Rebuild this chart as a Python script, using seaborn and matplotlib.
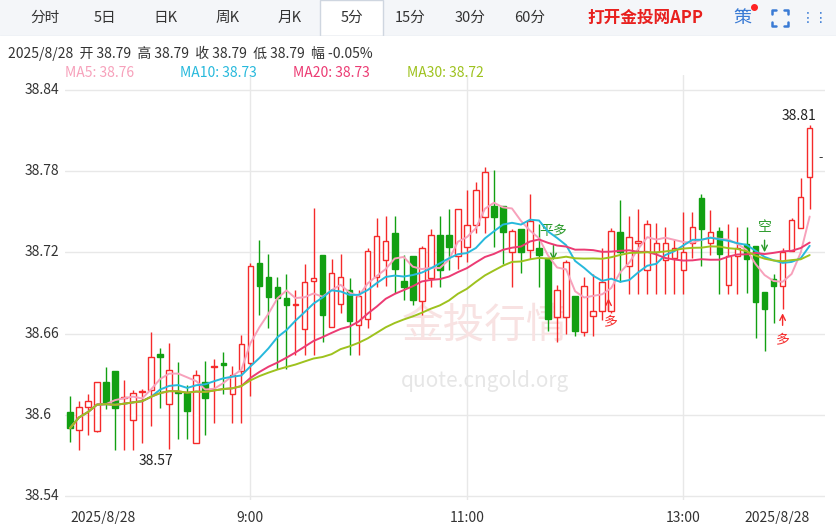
import numpy as np
import pandas as pd
import seaborn as sns
import matplotlib.pyplot as plt
from matplotlib.patches import Rectangle

# 5-minute candles, 2025/8/28
opens = [38.602, 38.589, 38.606, 38.588, 38.624, 38.632, 38.612, 38.596, 38.617, 38.618,
         38.645, 38.608, 38.617, 38.616, 38.579, 38.624, 38.635, 38.638, 38.615, 38.632,
         38.638, 38.712, 38.702, 38.694, 38.686, 38.681, 38.663, 38.699, 38.718, 38.665,
         38.682, 38.692, 38.666, 38.671, 38.702, 38.714, 38.734, 38.699, 38.717, 38.684,
         38.701, 38.733, 38.733, 38.717, 38.724, 38.740, 38.746, 38.754, 38.754, 38.720,
         38.737, 38.722, 38.723, 38.716, 38.672, 38.672, 38.688, 38.661, 38.673, 38.677,
         38.677, 38.735, 38.710, 38.727, 38.707, 38.720, 38.714, 38.716, 38.707, 38.727,
         38.760, 38.727, 38.736, 38.696, 38.717, 38.726, 38.725, 38.691, 38.700, 38.695,
         38.721, 38.738, 38.776]
closes = [38.590, 38.606, 38.610, 38.624, 38.609, 38.605, 38.613, 38.616, 38.617, 38.643,
          38.643, 38.633, 38.616, 38.603, 38.629, 38.612, 38.636, 38.637, 38.629, 38.652,
          38.710, 38.695, 38.687, 38.686, 38.681, 38.682, 38.698, 38.701, 38.674, 38.705,
          38.702, 38.669, 38.688, 38.721, 38.732, 38.728, 38.708, 38.694, 38.685, 38.723,
          38.733, 38.707, 38.724, 38.752, 38.740, 38.766, 38.779, 38.746, 38.735, 38.736,
          38.720, 38.743, 38.718, 38.671, 38.692, 38.713, 38.662, 38.695, 38.677, 38.698,
          38.736, 38.720, 38.731, 38.728, 38.741, 38.727, 38.727, 38.723, 38.720, 38.739,
          38.737, 38.735, 38.719, 38.717, 38.723, 38.715, 38.683, 38.678, 38.695, 38.720,
          38.744, 38.761, 38.812]
highs = [38.614, 38.610, 38.615, 38.624, 38.635, 38.632, 38.626, 38.618, 38.619, 38.661,
         38.649, 38.653, 38.639, 38.622, 38.633, 38.640, 38.641, 38.646, 38.636, 38.659,
         38.712, 38.729, 38.719, 38.702, 38.704, 38.692, 38.711, 38.753, 38.718, 38.715,
         38.719, 38.701, 38.692, 38.723, 38.745, 38.747, 38.747, 38.718, 38.717, 38.725,
         38.737, 38.747, 38.752, 38.752, 38.766, 38.772, 38.783, 38.781, 38.754, 38.737,
         38.737, 38.763, 38.741, 38.716, 38.696, 38.714, 38.688, 38.702, 38.704, 38.723,
         38.738, 38.759, 38.747, 38.752, 38.744, 38.742, 38.739, 38.730, 38.750, 38.750,
         38.763, 38.751, 38.739, 38.741, 38.739, 38.739, 38.725, 38.691, 38.704, 38.723,
         38.745, 38.775, 38.814]
lows = [38.580, 38.574, 38.585, 38.587, 38.604, 38.574, 38.574, 38.574, 38.579, 38.592,
        38.605, 38.575, 38.582, 38.582, 38.579, 38.585, 38.594, 38.615, 38.594, 38.594,
        38.614, 38.674, 38.664, 38.634, 38.634, 38.644, 38.644, 38.644, 38.654, 38.665,
        38.675, 38.644, 38.644, 38.664, 38.694, 38.695, 38.690, 38.685, 38.681, 38.674,
        38.694, 38.694, 38.707, 38.708, 38.713, 38.734, 38.734, 38.724, 38.711, 38.694,
        38.705, 38.715, 38.694, 38.662, 38.654, 38.660, 38.658, 38.658, 38.658, 38.670,
        38.675, 38.698, 38.689, 38.689, 38.689, 38.689, 38.689, 38.689, 38.689, 38.716,
        38.710, 38.718, 38.689, 38.689, 38.689, 38.690, 38.657, 38.647, 38.668, 38.678,
        38.721, 38.738, 38.752]
tick_pos = [0, 20, 44, 68, 82]
tick_labels = ['2025/8/28', '9:00', '11:00', '13:00', '2025/8/28']
y_ticks = [38.54, 38.6, 38.66, 38.72, 38.78, 38.84]
y_labels = ['38.54', '38.6', '38.66', '38.72', '38.78', '38.84']
tabs = ['分时', '5日', '日K', '周K', '月K', '5分', '15分', '30分', '60分']
ma_names = ['MA5', 'MA10', 'MA20', 'MA30']
ma_last = ['38.76', '38.73', '38.73', '38.72']
ma_colors = ['#f7a1bb', '#27b9dc', '#ec3b73', '#9ec21e']

RED = '#f52a2a'
GREEN = '#12a012'

df = pd.DataFrame({'open': opens, 'close': closes, 'high': highs, 'low': lows})
df['i'] = np.arange(len(df))
for n in [5, 10, 20, 30]:
    df[f'MA{n}'] = df['close'].rolling(n, min_periods=1).mean()

sns.set_style('white')
plt.rcParams['font.family'] = ['Noto Sans CJK SC', 'DejaVu Sans']

fig = plt.figure(figsize=(8.37, 5.24), dpi=100)
ax = fig.add_axes([65 / 837, 24 / 524, 760 / 837, 425 / 524])
ax.set_xlim(-0.55, 83.7)
ax.set_ylim(38.537, 38.851)
for yv in y_ticks:
    ax.axhline(yv, color='#e8e8e8', lw=1, zorder=0)
for p in tick_pos[1:4]:
    ax.axvline(p, color='#e8e8e8', lw=1, zorder=0)

# watermark
ax.text(46, 38.665, '金投行情', color='#f8e2e2', fontsize=30, ha='center', va='center', zorder=0)
ax.text(46, 38.625, 'quote.cngold.org', color='#e6e6e6', fontsize=15, ha='center', va='center', zorder=0)

w = 0.62
for _, r in df.iterrows():
    up = r['close'] >= r['open']
    c = RED if up else GREEN
    ax.vlines(r['i'], r['low'], r['high'], color=c, lw=1, zorder=2)
    lo, hi = min(r['open'], r['close']), max(r['open'], r['close'])
    ax.add_patch(Rectangle((r['i'] - w / 2, lo), w, max(hi - lo, 0.0008),
                           facecolor='white' if up else c, edgecolor=c, lw=1, zorder=3))

for name, col in zip(ma_names, ma_colors):
    sns.lineplot(data=df, x='i', y=name, color=col, lw=1.4, ax=ax, zorder=4)

ax.set_xlabel('')
ax.set_ylabel('')
ax.set_xticks(tick_pos)
ax.set_xticklabels(tick_labels, fontsize=10, color='#333')
ax.get_xticklabels()[0].set_ha('left')
ax.get_xticklabels()[-1].set_ha('right')
ax.tick_params(axis='x', length=0, pad=8)
ax.set_yticks([])
for s in ax.spines.values():
    s.set_visible(False)

for yv, lab in zip(y_ticks, y_labels):
    fig.text(25 / 837, ax.transData.transform((0, yv))[1] / 524, lab,
             fontsize=10, color='#333', va='center', ha='left')

ax.text(9.5, 38.566, '38.57', fontsize=10, color='#222', ha='center', va='center')
ax.text(80.8, 38.821, '38.81', fontsize=10, color='#222', ha='center', va='center')
ax.text(83.2, 38.79, '-', fontsize=9, color='#333', ha='center', va='center')

# signal marks
ax.text(53.6, 38.736, '平多', color='#2a9a2a', fontsize=10, ha='center', va='center')
ax.annotate('', xy=(53.6, 38.712), xytext=(53.6, 38.727),
            arrowprops=dict(arrowstyle='->', color='#2a9a2a', lw=1))
ax.text(60, 38.668, '多', color=RED, fontsize=10, ha='center', va='center')
ax.annotate('', xy=(59.7, 38.688), xytext=(59.7, 38.675),
            arrowprops=dict(arrowstyle='->', color=RED, lw=1))
ax.text(77, 38.739, '空', color='#2a9a2a', fontsize=10, ha='center', va='center')
ax.annotate('', xy=(77, 38.718), xytext=(77, 38.731),
            arrowprops=dict(arrowstyle='->', color='#2a9a2a', lw=1))
ax.text(79, 38.655, '多', color=RED, fontsize=10, ha='center', va='center')
ax.annotate('', xy=(79, 38.677), xytext=(79, 38.664),
            arrowprops=dict(arrowstyle='->', color=RED, lw=1))

# top tab bar
bar = fig.add_axes([0, 488 / 524, 1, 36 / 524])
bar.set_xlim(0, 837)
bar.set_ylim(0, 36)
bar.axis('off')
bar.add_patch(Rectangle((0, 0), 837, 36, facecolor='#f4f6f9', edgecolor='none'))
bar.plot([0, 837], [0.5, 0.5], color='#dde2ea', lw=1)
bar.add_patch(Rectangle((320, 0), 63, 36, facecolor='white', edgecolor='#cfd6e0', lw=1))
tab_x = [45, 105, 165, 228, 290, 352, 410, 470, 530]
for tx, t in zip(tab_x, tabs):
    bar.text(tx, 18, t, fontsize=10.5, color='#333', ha='center', va='center')
bar.text(645, 18, '打开金投网APP', fontsize=12, color='#e8201e', fontweight='bold', ha='center', va='center')
bar.text(742, 18, '策', fontsize=13, color='#3a7bd5', ha='center', va='center')
bar.plot([754], [29], 'o', color='#ff2222', ms=4)
# fullscreen icon: four corner brackets
cx, cy, h, k = 780, 18, 8, 4
for sx in (-1, 1):
    for sy in (-1, 1):
        bar.plot([cx + sx * h, cx + sx * h, cx + sx * (h - k)],
                 [cy + sy * (h - k), cy + sy * h, cy + sy * h], color='#3a7bd5', lw=1.8)
bar.text(815, 18, '⋮⋮', fontsize=10, color='#3a7bd5', ha='center', va='center', family=['DejaVu Sans'])

fig.text(8 / 837, 1 - 53 / 524, '2025/8/28  开 38.79  高 38.79  收 38.79  低 38.79  幅 -0.05%',
         fontsize=10, color='#333', va='center')
mx = [65, 180, 293, 407]
for name, val, col, x0 in zip(ma_names, ma_last, ma_colors, mx):
    fig.text(x0 / 837, 1 - 73 / 524, f'{name}: {val}', fontsize=10, color=col, va='center')

fig.savefig('out.png', dpi=100)
